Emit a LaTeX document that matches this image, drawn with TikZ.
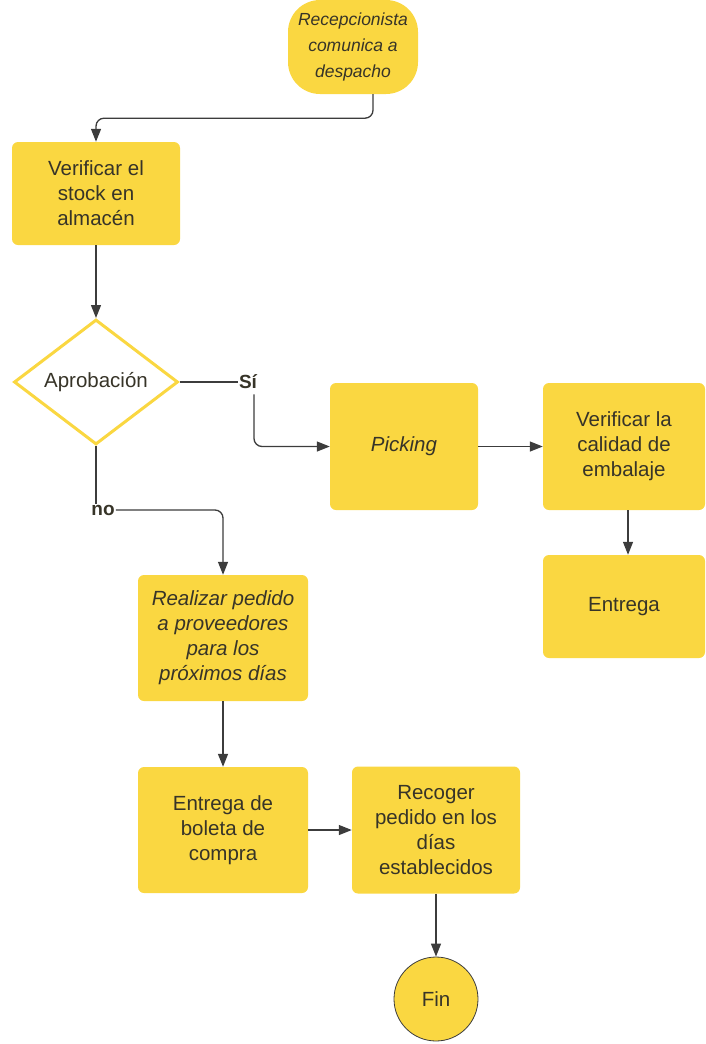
\documentclass[tikz,border=0pt]{standalone}
\usepackage{fontspec}
\setmainfont{Liberation Sans}
\usetikzlibrary{positioning, shapes.geometric, arrows.meta}
\definecolor{amarillo}{RGB}{250,215,65}
\definecolor{texto}{RGB}{55,52,40}
\definecolor{trazo}{RGB}{60,60,60}
\tikzset{
  caja/.style={fill=amarillo, rounded corners=6pt, inner sep=0pt, align=center, text=texto,
    font=\fontsize{20.5}{25}\selectfont},
  decision/.style={diamond, draw=amarillo, line width=3pt, fill=white, inner sep=0pt, aspect=1.3,
    text=texto, font=\fontsize{20.5}{25}\selectfont},
  etiqueta/.style={inner sep=1pt, text=texto, font=\bfseries\fontsize{19}{22}\selectfont},
  fin/.style={circle, fill=amarillo, draw=trazo, line width=0.8pt, minimum size=84pt, inner sep=0pt,
    text=texto, font=\fontsize{20.5}{25}\selectfont},
  flecha/.style={draw=trazo, line width=1.3pt, -{Triangle[length=13pt,width=10pt]}},
  linea/.style={draw=trazo, line width=1.3pt}
}
\begin{document}
\begin{tikzpicture}[x=1pt, y=-1pt]
  \useasboundingbox (0,0) rectangle (705,1044);
  \node[caja, rounded corners=32pt, minimum width=130pt, minimum height=94pt,
        font=\itshape\fontsize{17.5}{26}\selectfont] (recep) at (353,47) {Recepcionista\\comunica a\\despacho};
  \node[caja, minimum width=168pt, minimum height=103pt] (stock) at (96,193.5) {Verificar el\\stock en\\almacén};
  \node[decision, minimum width=164pt, minimum height=125pt] (aprob) at (96,382) {Aprobación};
  \node[etiqueta] (si) at (248,382) {Sí};
  \node[etiqueta] (no) at (103,510) {no};
  \node[caja, minimum width=148pt, minimum height=127pt, font=\itshape\fontsize{20.5}{25}\selectfont] (picking) at (404,446.5) {Picking};
  \node[caja, minimum width=162pt, minimum height=127pt] (calidad) at (624,446.5) {Verificar la\\calidad de\\embalaje};
  \node[caja, minimum width=162pt, minimum height=103pt] (entrega) at (624,606.5) {Entrega};
  \node[caja, minimum width=170pt, minimum height=126pt, font=\itshape\fontsize{20.5}{25}\selectfont] (pedido) at (223,638) {Realizar pedido\\a proveedores\\para los\\próximos días};
  \node[caja, minimum width=170pt, minimum height=126pt] (boleta) at (223,830) {Entrega de\\boleta de\\compra};
  \node[caja, minimum width=168pt, minimum height=127pt] (recoger) at (436,830) {Recoger\\pedido en los\\días\\establecidos};
  \node[fin] (fin) at (436,999) {Fin};

  \draw[flecha, rounded corners=8pt] ([xshift=20pt]recep.south) -- ++(0,24) -| (stock.north);
  \draw[flecha] (stock.south) -- (aprob.north);
  \draw[linea] (aprob.east) -- (si.west);
  \draw[flecha, rounded corners=8pt] ([xshift=6pt, yshift=-4pt]si.south) |- (picking.west);
  \draw[linea] (aprob.south) -- (aprob.south |- no.north);
  \draw[flecha, rounded corners=8pt] (no.east) -| (pedido.north);
  \draw[flecha] (picking.east) -- (calidad.west);
  \draw[flecha] ([xshift=4pt]calidad.south) -- ([xshift=4pt]entrega.north);
  \draw[flecha] (pedido.south) -- (boleta.north);
  \draw[flecha] (boleta.east) -- (recoger.west);
  \draw[flecha] (recoger.south) -- (fin.north);
\end{tikzpicture}
\end{document}
